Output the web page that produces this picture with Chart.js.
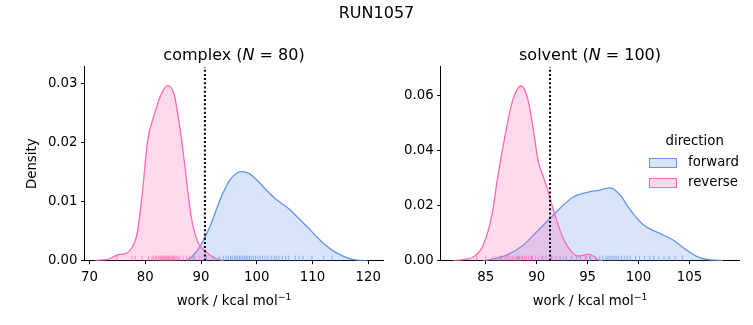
<!DOCTYPE html>
<html>
<head>
<meta charset="utf-8">
<title>RUN1057</title>
<script src="https://cdn.jsdelivr.net/npm/chart.js@4.4.0/dist/chart.umd.min.js"></script>
<style>
  body { margin: 0; background: #fff; font-family: 'DejaVu Sans', sans-serif; color: #000; }
  #page { position: relative; width: 753px; height: 325px; overflow: hidden; background: #fff; }
  canvas { position: absolute; top: 0; }
  .txt { position: absolute; transform: translate(-50%, -50%); line-height: 1; white-space: nowrap; }
  .big { font-size: 16px; }
  .med { font-size: 13.3px; }
  .txt sup { font-size: 0.7em; line-height: 0; vertical-align: 0.55em; }
  .patch { position: absolute; box-sizing: border-box; width: 28px; height: 10px; border: 1px solid; }
  .lbl { position: absolute; font-size: 13.3px; line-height: 1; transform: translateY(-50%); }
</style>
</head>
<body>
<div id="page">
  <canvas id="complexChart" width="390" height="325" style="left:0px"></canvas>
  <canvas id="solventChart" width="363" height="325" style="left:390px"></canvas>

  <div class="txt big" style="left:376.5px; top:12.5px">RUN1057</div>
  <div class="txt big" style="left:234px; top:54.5px">complex (<i>N</i> = 80)</div>
  <div class="txt big" style="left:590px; top:54.5px">solvent (<i>N</i> = 100)</div>

  <!-- x axis labels -->
  <div class="txt med" style="left:234px; top:300.5px">work / kcal mol<sup>−1</sup></div>
  <div class="txt med" style="left:590px; top:300.5px">work / kcal mol<sup>−1</sup></div>

  <!-- legend -->
  <div class="txt med" style="left:694.7px; top:141px">direction</div>
  <div class="patch" style="left:648.5px; top:157.5px; border-color:#6495ED; background:rgba(100,149,237,0.25)"></div>
  <div class="lbl" style="left:688px; top:161.7px">forward</div>
  <div class="patch" style="left:648.5px; top:178px; border-color:#FF69B4; background:rgba(255,105,180,0.25)"></div>
  <div class="lbl" style="left:688px; top:182.3px">reverse</div>
</div>

<script>
// ---- complex leg: KDE curves ----
const cxFwdX = [87.4, 88.5, 89.8, 90.7, 91.6, 92.5, 93.4, 94.3, 95.2, 96.2, 97.3, 98.6, 100.0, 101.5, 103.0, 104.5, 106.0, 107.5, 109.0, 110.5, 112.0, 113.5, 115.0, 116.5, 118.0, 119.8];
const cxFwdY = [0, 0.0008, 0.0024, 0.0040, 0.0058, 0.0080, 0.0103, 0.0122, 0.0137, 0.0147, 0.0151, 0.0148, 0.0137, 0.0122, 0.0108, 0.0097, 0.0086, 0.0072, 0.0058, 0.0043, 0.0029, 0.0018, 0.0010, 0.0004, 0.0001, 0];
const cxRevX = [71.0, 72.0, 73.0, 74.0, 75.0, 76.0, 77.0, 78.0, 78.6, 79.5, 80.4, 81.6, 82.8, 84.0, 85.2, 86.4, 87.3, 88.2, 89.4, 90.3, 91.2, 92.0, 92.9, 94.0];
const cxRevY = [0, 0.0001, 0.0002, 0.0005, 0.0010, 0.0011, 0.0015, 0.0029, 0.0049, 0.0117, 0.0202, 0.0247, 0.0281, 0.0297, 0.0281, 0.0213, 0.0145, 0.0077, 0.0032, 0.0020, 0.0013, 0.0007, 0.0003, 0];

// rug (individual work values)
const cxFwdRug = [88.6, 91.0, 92.2, 93.3, 94.0, 94.5, 94.9, 95.3, 95.6, 96.0, 96.3, 96.6, 96.9, 97.2, 97.5, 97.8, 98.1, 98.4, 98.7, 99.0, 99.4, 99.8, 100.2, 100.6, 101.0, 101.5, 102.0, 102.6, 103.1, 103.5, 104.0, 104.6, 105.2, 105.7, 106.9, 107.6, 108.3, 109.9, 112.0, 113.5];
const cxRevRug = [74.9, 77.6, 78.2, 79.4, 80.6, 81.2, 81.5, 81.8, 82.0, 82.3, 82.5, 82.7, 82.9, 83.1, 83.3, 83.4, 83.6, 83.8, 83.9, 84.1, 84.2, 84.4, 84.6, 84.8, 84.9, 85.1, 85.3, 85.5, 85.7, 85.9, 86.2, 86.8, 87.4, 87.9, 88.3, 88.9, 89.8, 90.7];

// ---- solvent leg ----
const svFwdX = [84.75, 86.0, 87.05, 88.7, 90.0, 91.3, 92.6, 93.6, 94.9, 96.2, 97.2, 98.2, 99.2, 100.5, 102.1, 103.4, 104.7, 106.0, 107.0, 108.3];
const svFwdY = [0, 0.0008, 0.0020, 0.0057, 0.0105, 0.0153, 0.0201, 0.0231, 0.0247, 0.0256, 0.0264, 0.0238, 0.0183, 0.0129, 0.0099, 0.0075, 0.0039, 0.0011, 0.0003, 0];
const svRevX = [81.8, 82.8, 83.8, 84.75, 85.6, 86.2, 86.9, 87.5, 88.0, 88.46, 88.8, 89.2, 89.7, 90.16, 90.6, 91.0, 91.8, 92.6, 93.4, 94.1, 94.6, 95.07, 95.5, 96.05, 96.5];
const svRevY = [0, 0.0004, 0.0014, 0.0057, 0.0165, 0.0310, 0.0455, 0.0563, 0.0615, 0.0633, 0.0620, 0.0575, 0.0467, 0.0358, 0.0310, 0.0265, 0.0165, 0.0081, 0.0033, 0.0017, 0.0020, 0.0024, 0.0018, 0.0003, 0];

const svFwdRug = [86.5, 88.2, 89.5, 90.6, 91.5, 92.3, 92.9, 93.4, 93.9, 94.3, 94.8, 95.3, 95.8, 96.2, 96.5, 96.8, 97.0, 97.2, 97.4, 97.6, 97.8, 98.0, 98.3, 98.6, 98.9, 99.2, 99.7, 100.1, 100.6, 101.1, 101.5, 102.0, 102.5, 103.0, 103.6, 104.3];
const svRevRug = [84.1, 85.0, 85.7, 86.0, 86.3, 86.5, 86.8, 87.0, 87.2, 87.4, 87.6, 87.8, 88.0, 88.1, 88.3, 88.5, 88.6, 88.8, 89.0, 89.2, 89.4, 89.6, 89.9, 90.2, 90.5, 90.9, 91.4, 91.9, 92.6, 94.9, 95.2];

// dotted reference lines (complex, solvent)
const refLineX = [90.7, 91.31];

// axis ticks
const cxXTicks = [70, 80, 90, 100, 110, 120];
const cxYTicks = [0, 0.01, 0.02, 0.03];
const svXTicks = [85, 90, 95, 100, 105];
const svYTicks = [0, 0.02, 0.04, 0.06];

const BLUE = '#6495ED';
const PINK = '#FF69B4';

Chart.defaults.font.family = "'DejaVu Sans', sans-serif";
Chart.defaults.font.size = 13.3;
Chart.defaults.color = '#000';

function pts(xs, ys) {
    return xs.map((x, i) => ({ x: x, y: ys[i] }));
}

// builds one panel
function makePanel(id, p) {
    const rugY = p.yMax * 0.0125; // rug ticks sit in the bottom 2.5% of the axes
    const kde = (label, data, color, fillColor, order) => ({
        type: 'line', label: label, data: data, order: order,
        borderColor: color, borderWidth: 1.3, backgroundColor: fillColor,
        fill: 'origin', pointRadius: 0, cubicInterpolationMode: 'monotone'
    });
    const rug = (vals, color) => ({
        type: 'scatter', data: vals.map(v => ({ x: v, y: rugY })), order: 1,
        pointStyle: 'line', rotation: 90, radius: 2.6, borderWidth: 1,
        borderColor: color, backgroundColor: color
    });

    new Chart(document.getElementById(id), {
        type: 'line',
        data: {
            datasets: [
                {
                    type: 'line', data: [{ x: p.refX, y: 0 }, { x: p.refX, y: p.yMax }], order: 0,
                    borderColor: '#000', borderWidth: 2, borderDash: [2, 2.2], pointRadius: 0, fill: false
                },
                rug(p.fwdRug, 'rgba(100,149,237,0.7)'),
                rug(p.revRug, 'rgba(255,105,180,0.7)'),
                kde('reverse', p.rev, PINK, 'rgba(255,105,180,0.25)', 2),
                kde('forward', p.fwd, BLUE, 'rgba(100,149,237,0.25)', 3)
            ]
        },
        options: {
            responsive: false,
            animation: false,
            events: [],
            devicePixelRatio: 1,
            layout: { padding: { top: 66.7, left: 0, right: p.padRight, bottom: 0 } },
            plugins: { legend: { display: false }, tooltip: { enabled: false }, title: { display: false } },
            scales: {
                x: {
                    type: 'linear', min: p.xMin, max: p.xMax,
                    afterBuildTicks: axis => { axis.ticks = p.xTicks.map(v => ({ value: v })); },
                    afterFit: axis => { axis.height = 64.3; },
                    grid: { drawOnChartArea: false, drawTicks: true, tickLength: 3.5, color: '#000' },
                    border: { display: true, color: '#000', width: 1 },
                    ticks: { padding: 5, maxRotation: 0, autoSkip: false, callback: v => String(v) },
                    title: { display: false }
                },
                y: {
                    min: 0, max: p.yMax,
                    afterBuildTicks: axis => { axis.ticks = p.yTicks.map(v => ({ value: v })); },
                    afterFit: axis => { axis.width = p.yWidth; },
                    grid: { drawOnChartArea: false, drawTicks: true, tickLength: 3.5, color: '#000' },
                    border: { display: true, color: '#000', width: 1 },
                    ticks: { padding: 3.5, callback: v => v.toFixed(2) },
                    title: { display: p.yTitle, text: 'Density', padding: { top: 25, bottom: 0 } }
                }
            }
        }
    });
}

makePanel('complexChart', {
    fwd: pts(cxFwdX, cxFwdY), rev: pts(cxRevX, cxRevY),
    fwdRug: cxFwdRug, revRug: cxRevRug, refX: refLineX[0],
    xMin: 69.1, xMax: 122.7, yMax: 0.0329,
    xTicks: cxXTicks, yTicks: cxYTicks,
    yWidth: 84.5, padRight: 6.7, yTitle: true
});

makePanel('solventChart', {
    fwd: pts(svFwdX, svFwdY), rev: pts(svRevX, svRevY),
    fwdRug: svFwdRug, revRug: svRevRug, refX: refLineX[1],
    xMin: 80.57, xMax: 109.9, yMax: 0.0703,
    xTicks: svXTicks, yTicks: svYTicks,
    yWidth: 50.7, padRight: 13.7, yTitle: false
});
</script>
</body>
</html>
